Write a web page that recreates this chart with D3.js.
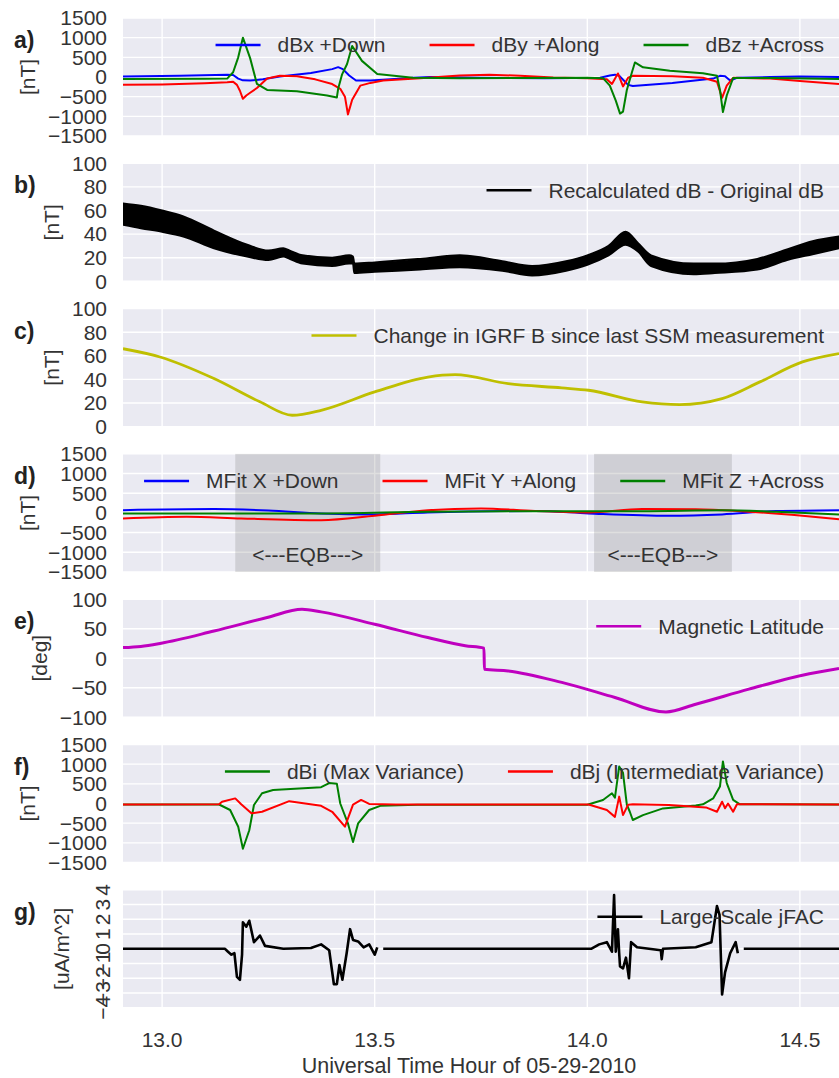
<!DOCTYPE html>
<html>
<head>
<meta charset="utf-8">
<script src="https://cdn.jsdelivr.net/npm/d3@7"></script>
<style>
  body { margin: 0; background: #fff; }
  text { font-family: "Liberation Sans", Arial, sans-serif; fill: #333; }
</style>
</head>
<body>
<svg id="chart"></svg>
<script>
const width = 839;
const height = 1078;

// x ticks (UT hour)
const xTicks = [13.0, 13.5, 14.0, 14.5];
const xDomain = [12.908, 14.592];

// y ticks per panel
const ticksNT = [-1500, -1000, -500, 0, 500, 1000, 1500];
const ticks100 = [0, 20, 40, 60, 80, 100];
const ticksDeg = [-100, -50, 0, 50, 100];
const ticksJ = [-4, -3, -2, -1, 0, 1, 2, 3, 4];

// a) residual field, [hour, nT]
const dBx = [[12.908, 10], [13.042, 33], [13.153, 60], [13.167, 50], [13.179, -40], [13.19, -85], [13.207, -90],
  [13.237, -60], [13.277, 10], [13.35, 100], [13.40, 200], [13.414, 250], [13.425, 200], [13.44, 40], [13.456, -90],
  [13.49, -90], [13.52, -70], [13.59, -20], [13.63, 0], [13.75, -20], [13.90, -30], [14.03, -20], [14.053, 40],
  [14.065, 60], [14.075, 30], [14.096, -200], [14.107, -230], [14.20, -150], [14.296, -40], [14.312, 30],
  [14.324, 20], [14.336, -90], [14.352, -20], [14.43, 0], [14.50, 10], [14.592, 0]];
const dBy = [[12.908, -200], [13.0, -190], [13.1, -160], [13.153, -135], [13.167, -120], [13.176, -200], [13.183, -350],
  [13.19, -555], [13.198, -470], [13.207, -400], [13.223, -280], [13.247, -40], [13.277, 30], [13.317, 20],
  [13.36, -60], [13.40, -180], [13.419, -300], [13.43, -500], [13.437, -950], [13.447, -580], [13.466, -220],
  [13.49, -150], [13.52, -90], [13.607, -30], [13.70, 40], [13.77, 60], [13.842, 30], [13.92, -10], [14.0, -30],
  [14.046, -60], [14.058, -175], [14.072, 90], [14.084, -240], [14.096, -20], [14.107, 30], [14.20, 20],
  [14.272, -20], [14.305, -120], [14.317, -530], [14.328, -220], [14.343, -20], [14.43, -40], [14.50, -100],
  [14.592, -180]];
const dBz = [[12.908, -50], [13.10, -45], [13.153, -40], [13.167, 120], [13.179, 500], [13.19, 1000], [13.207, 480],
  [13.223, -175], [13.247, -330], [13.317, -360], [13.388, -470], [13.411, -520], [13.414, -300], [13.423, 60],
  [13.435, 330], [13.447, 790], [13.47, 410], [13.506, 75], [13.59, -20], [13.70, -30], [13.85, -25], [14.00, -20],
  [14.037, -30], [14.053, -218], [14.067, -600], [14.077, -930], [14.084, -880], [14.093, -330], [14.105, 120],
  [14.112, 370], [14.131, 245], [14.194, 160], [14.272, 93], [14.305, 30], [14.312, -330], [14.319, -890],
  [14.328, -470], [14.343, -25], [14.43, -25], [14.592, -50]];

// b) recalculated - original dB, noisy band [hour, low, high]
const dBdiff = [[12.908, 48, 66], [12.95, 45, 64], [13.0, 42, 60], [13.05, 38, 55], [13.122, 28, 43], [13.2, 21, 31],
  [13.25, 18, 26], [13.285, 21, 28], [13.30, 19, 26], [13.33, 15, 22], [13.40, 13, 20], [13.44, 15, 22],
  [13.449, 15, 21], [13.452, 7, 15], [13.50, 8, 16], [13.607, 10, 19], [13.70, 12, 22], [13.80, 9, 17],
  [13.87, 5, 13], [13.95, 9, 17], [14.0, 14, 22], [14.05, 22, 30], [14.09, 31, 42], [14.12, 25, 32],
  [14.15, 13, 22], [14.25, 6, 15], [14.30, 7, 15], [14.40, 10, 19], [14.47, 18, 27], [14.53, 23, 34],
  [14.592, 28, 38]];

// c) change in IGRF B
const igrfChange = [[12.908, 66], [12.995, 59], [13.122, 40.7], [13.23, 21], [13.306, 9.6], [13.374, 13.8],
  [13.50, 29.4], [13.625, 42], [13.689, 44], [13.814, 36.4], [13.94, 32.8], [14.003, 30.8], [14.129, 20.9],
  [14.217, 18.6], [14.317, 23.7], [14.406, 37.9], [14.506, 54.8], [14.592, 61.9]];

// d) model fit
const mfitX = [[12.908, 70], [13.122, 97], [13.25, 60], [13.374, -13], [13.50, -38], [13.625, 13], [13.877, 47],
  [14.003, -13], [14.192, -72], [14.317, -38], [14.444, 47], [14.592, 70]];
const mfitY = [[12.908, -141], [13.058, -98], [13.186, -141], [13.374, -184], [13.50, -72], [13.625, 70],
  [13.75, 115], [13.877, 47], [14.003, 13], [14.129, 97], [14.255, 90], [14.38, 30], [14.506, -72], [14.592, -160]];
const mfitZ = [[12.908, -13], [13.122, -13], [13.374, -13], [13.625, 30], [13.877, 45], [14.129, 45],
  [14.317, 70], [14.444, 30], [14.592, -38]];
const eqbSpans = [[13.172, 13.513], [14.016, 14.340]];

// e) magnetic latitude
const magLat = [[12.908, 18], [12.95, 20], [12.995, 25], [13.122, 46], [13.247, 69], [13.329, 83], [13.374, 78.5],
  [13.5, 57.6], [13.625, 35], [13.713, 21], [13.757, 17], [13.758, -18.6], [13.814, -21.5], [13.94, -41],
  [14.065, -66.6], [14.185, -91], [14.255, -78], [14.38, -52.5], [14.506, -28.8], [14.592, -17.5]];

// f) max / intermediate variance
const dBi = [[12.908, -25], [13.134, -25], [13.16, -165], [13.179, -590], [13.19, -1150], [13.205, -680],
  [13.216, -38], [13.235, 260], [13.261, 345], [13.374, 415], [13.393, 520], [13.411, 500], [13.419, 0],
  [13.437, -505], [13.449, -980], [13.461, -505], [13.487, -165], [13.513, -60], [13.6, -30], [14.0, -30],
  [14.037, 90], [14.058, 260], [14.065, 150], [14.075, 940], [14.084, 780], [14.093, -30], [14.100, -210],
  [14.107, -420], [14.131, -295], [14.178, -125], [14.255, -50], [14.272, -20], [14.296, 130], [14.312, 430],
  [14.319, 1070], [14.328, 520], [14.343, 90], [14.359, -20], [14.592, -25]];
const dBj = [[12.908, -25], [13.134, -20], [13.141, 46], [13.172, 130], [13.186, -20], [13.21, -250],
  [13.235, -210], [13.299, 60], [13.374, -60], [13.40, -210], [13.43, -590], [13.449, -30], [13.468, 90],
  [13.487, -10], [13.55, -25], [14.003, -25], [14.046, -165], [14.065, -340], [14.075, 175], [14.084, -295],
  [14.096, -30], [14.107, -20], [14.192, -40], [14.279, -100], [14.305, -210], [14.317, 46], [14.324, -120],
  [14.331, 0], [14.343, -210], [14.352, -20], [14.592, -25]];

// g) large scale FAC (null = gap)
const jfac = [[12.908, 0], [13.148, 0], [13.155, -0.2], [13.163, -0.4], [13.170, -0.3], [13.176, -1.9],
  [13.183, -2.1], [13.188, -0.4], [13.19, 1.8], [13.198, 1.5], [13.205, 1.9], [13.216, 0.45], [13.23, 0.9],
  [13.242, 0.2], [13.285, 0.0], [13.35, 0.05], [13.374, 0.3], [13.393, -0.1], [13.404, -2.4], [13.411, -2.4],
  [13.417, -1.1], [13.424, -2.1], [13.434, -0.3], [13.442, 1.33], [13.449, 0.6], [13.461, 0.5], [13.474, 0.1],
  [13.487, 0.3], [13.5, -0.4], [13.506, 0.1], [13.512, null], [13.52, 0], [14.009, 0], [14.028, 0.3],
  [14.046, 0.45], [14.058, -0.2], [14.063, 3.65], [14.067, -0.2], [14.072, 1.33], [14.075, -0.3],
  [14.077, -1.2], [14.084, -1.33], [14.091, -0.6], [14.098, -2.0], [14.103, 0.45], [14.117, 0.1],
  [14.173, -0.1], [14.175, -0.7], [14.178, 0], [14.255, 0.1], [14.292, 0.45], [14.305, 2.9], [14.311, 2.3],
  [14.317, -3.1], [14.324, -1.6], [14.336, -0.3], [14.349, 0.45], [14.354, -0.3], [14.36, null],
  [14.368, 0], [14.592, 0]];

const panels = [
  {tag: 'a)', unit: '[nT]', domain: [-1500, 1500], ticks: ticksNT, series: [
    {data: dBx, color: '#0000ff', name: 'dBx +Down'},
    {data: dBy, color: '#ff0000', name: 'dBy +Along'},
    {data: dBz, color: '#008000', name: 'dBz +Across'}]},
  {tag: 'b)', unit: '[nT]', domain: [0, 100], ticks: ticks100, band: dBdiff, series: [
    {data: null, color: '#000', name: 'Recalculated dB - Original dB'}]},
  {tag: 'c)', unit: '[nT]', domain: [0, 100], ticks: ticks100, smooth: true, lw: 2.8, series: [
    {data: igrfChange, color: '#bfbf00', name: 'Change in IGRF B since last SSM measurement'}]},
  {tag: 'd)', unit: '[nT]', domain: [-1500, 1500], ticks: ticksNT, smooth: true, spans: eqbSpans, series: [
    {data: mfitX, color: '#0000ff', name: 'MFit X +Down'},
    {data: mfitY, color: '#ff0000', name: 'MFit Y +Along'},
    {data: mfitZ, color: '#008000', name: 'MFit Z +Across'}]},
  {tag: 'e)', unit: '[deg]', domain: [-100, 100], ticks: ticksDeg, smooth: true, lw: 3, series: [
    {data: magLat, color: '#bf00bf', name: 'Magnetic Latitude'}]},
  {tag: 'f)', unit: '[nT]', domain: [-1500, 1500], ticks: ticksNT, series: [
    {data: dBi, color: '#008000', name: 'dBi (Max Variance)'},
    {data: dBj, color: '#ff0000', name: 'dBj (Intermediate Variance)'}]},
  {tag: 'g)', unit: '[uA/m^2]', domain: [-4, 4], ticks: ticksJ, rotTicks: true, lw: 2.6, series: [
    {data: jfac, color: '#000', name: 'Large-Scale jFAC'}]}
];

const svg = d3.select('#chart')
  .attr('width', width)
  .attr('height', height);

const plotLeft = 123;
const x = d3.scaleLinear().domain(xDomain).range([plotLeft, width]);
const fontSize = 21;

panels.forEach((p, i) => {
  const top = 18 + i * 145.3;
  const h = 118;
  const y = d3.scaleLinear().domain(p.domain).range([top + h, top]);
  const g = svg.append('g');

  g.append('rect')
    .attr('x', plotLeft).attr('y', top)
    .attr('width', width - plotLeft).attr('height', h)
    .attr('fill', '#eaeaf2');

  const clipId = 'clip' + i;
  g.append('clipPath').attr('id', clipId)
    .append('rect')
    .attr('x', plotLeft).attr('y', top - 1)
    .attr('width', width - plotLeft).attr('height', h + 2);

  // grid
  g.selectAll('.hgrid').data(p.ticks).enter().append('line')
    .attr('x1', plotLeft).attr('x2', width)
    .attr('y1', d => y(d)).attr('y2', d => y(d))
    .attr('stroke', '#fff').attr('stroke-width', 1.4);
  g.selectAll('.vgrid').data(xTicks).enter().append('line')
    .attr('x1', d => x(d)).attr('x2', d => x(d))
    .attr('y1', top).attr('y2', top + h)
    .attr('stroke', '#fff').attr('stroke-width', 1.4);

  // EQB shading
  if (p.spans) {
    g.selectAll('.span').data(p.spans).enter().append('rect')
      .attr('x', d => x(d[0])).attr('y', top)
      .attr('width', d => x(d[1]) - x(d[0])).attr('height', h)
      .attr('fill', '#7f7f7f').attr('fill-opacity', 0.25);
    g.selectAll('.spanlabel').data(p.spans).enter().append('text')
      .attr('x', d => (x(d[0]) + x(d[1])) / 2)
      .attr('y', y(-1050))
      .attr('dy', '0.35em')
      .attr('text-anchor', 'middle')
      .style('font-size', fontSize + 'px')
      .text('<---EQB--->');
  }

  const plot = g.append('g').attr('clip-path', `url(#${clipId})`);

  if (p.band) {
    const area = d3.area()
      .x(d => x(d[0]))
      .y0(d => y(d[1]))
      .y1(d => y(d[2]))
      .curve(d3.curveMonotoneX);
    plot.append('path')
      .datum(p.band)
      .attr('d', area)
      .attr('fill', '#000')
      .attr('stroke', '#000')
      .attr('stroke-width', 2)
      .attr('stroke-linejoin', 'round');
  }

  const line = d3.line()
    .defined(d => d[1] !== null)
    .x(d => x(d[0]))
    .y(d => y(d[1]))
    .curve(p.smooth ? d3.curveMonotoneX : d3.curveLinear);

  p.series.filter(s => s.data).forEach(s => {
    plot.append('path')
      .datum(s.data)
      .attr('d', line)
      .attr('fill', 'none')
      .attr('stroke', s.color)
      .attr('stroke-width', p.lw || 2)
      .attr('stroke-linejoin', 'round');
  });

  // y tick labels
  const fmt = d3.format('d');
  const tickG = g.append('g');
  if (p.rotTicks) {
    tickG.selectAll('text').data(p.ticks).enter().append('text')
      .attr('transform', d => `translate(110,${y(d)}) rotate(-90)`)
      .attr('text-anchor', 'middle')
      .style('font-size', fontSize + 'px')
      .text(fmt);
  } else {
    tickG.selectAll('text').data(p.ticks).enter().append('text')
      .attr('x', 107)
      .attr('y', d => y(d))
      .attr('dy', '0.35em')
      .attr('text-anchor', 'end')
      .style('font-size', fontSize + 'px')
      .text(fmt);
  }
  const tb = tickG.node().getBBox();

  // y label
  g.append('text')
    .attr('transform', `translate(${tb.x - (p.rotTicks ? 22 : 13)},${top + h / 2}) rotate(-90)`)
    .attr('text-anchor', 'middle')
    .style('font-size', fontSize + 'px')
    .text(p.unit);

  // panel tag
  g.append('text')
    .attr('x', 14)
    .attr('y', top + 30)
    .style('font-size', '23px')
    .style('font-weight', 'bold')
    .style('fill', '#222')
    .text(p.tag);

  // legend, right aligned
  const legY = top + 27;
  const leg = g.append('g');
  const items = p.series.map(s => {
    const t = leg.append('text')
      .attr('y', legY)
      .attr('dy', '0.35em')
      .style('font-size', fontSize + 'px')
      .text(s.name);
    return {s, t, w: t.node().getComputedTextLength()};
  });
  let cursor = 824;
  for (let k = items.length - 1; k >= 0; k--) {
    const it = items[k];
    it.t.attr('x', cursor - it.w);
    const lx2 = cursor - it.w - 17;
    leg.append('line')
      .attr('x1', lx2 - 45).attr('x2', lx2)
      .attr('y1', legY).attr('y2', legY)
      .attr('stroke', it.s.color)
      .attr('stroke-width', 2.5);
    cursor = lx2 - 45 - 44;
  }

  // x axis labels on bottom panel
  if (i === panels.length - 1) {
    g.selectAll('.xlab').data(xTicks).enter().append('text')
      .attr('x', d => x(d))
      .attr('y', top + h + 32)
      .attr('dy', '0.35em')
      .attr('text-anchor', 'middle')
      .style('font-size', fontSize + 'px')
      .text(d3.format('.1f'));
    g.append('text')
      .attr('x', (x(13.0) + x(14.5)) / 2 - 12)
      .attr('y', 1073)
      .attr('text-anchor', 'middle')
      .style('font-size', '21.5px')
      .text('Universal Time Hour of 05-29-2010');
  }
});
</script>
</body>
</html>
